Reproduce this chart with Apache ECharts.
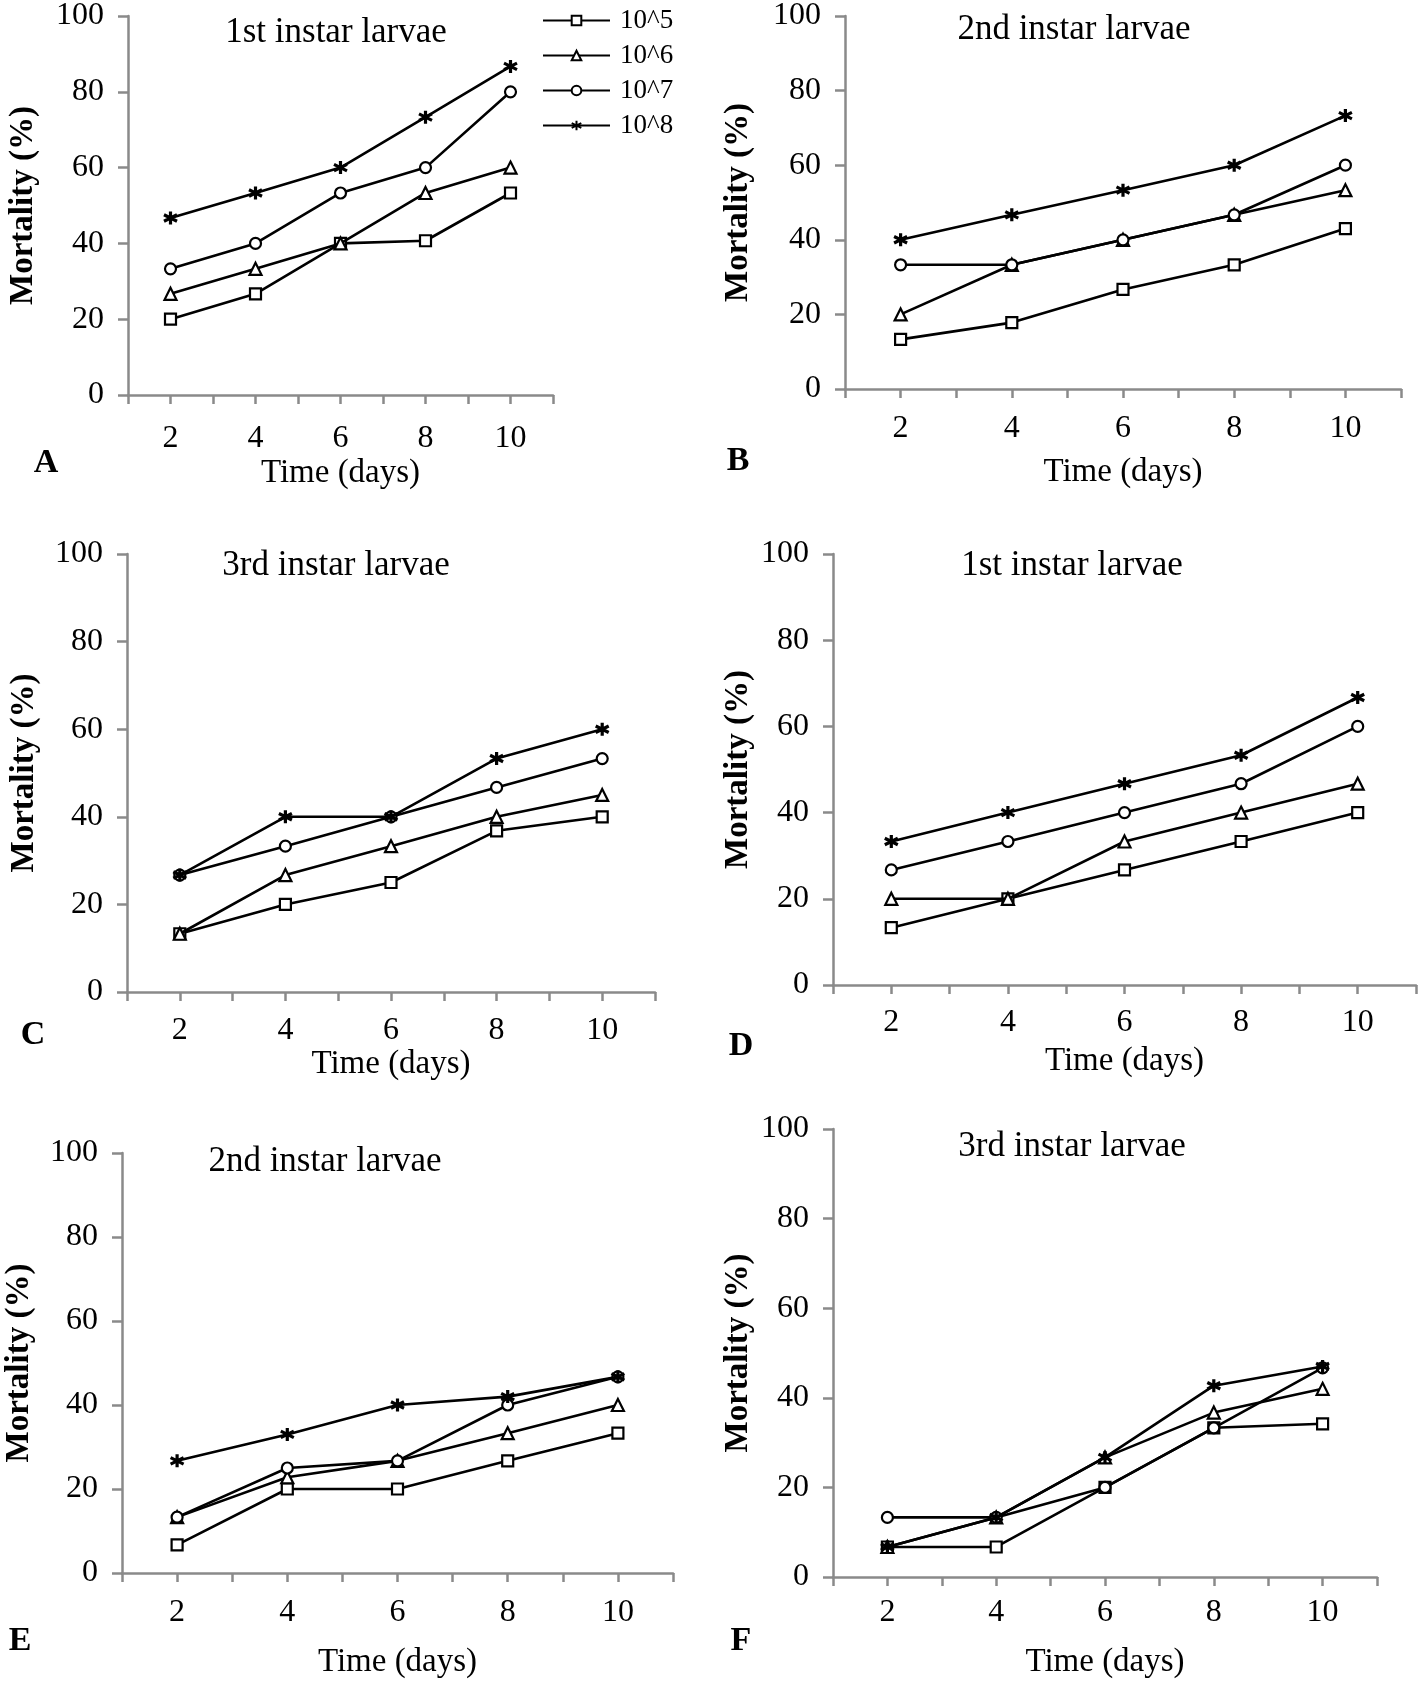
<!DOCTYPE html>
<html><head><meta charset="utf-8">
<script src="https://cdn.jsdelivr.net/npm/echarts/dist/echarts.min.js"></script>
<style>html,body{margin:0;padding:0;background:#fff}#c{width:1419px;height:1682px}</style>
</head><body><div id="c"></div>
<script>
// ---- data ----
const days = [2, 4, 6, 8, 10];
const xTickLabels = [2, 4, 6, 8, 10];
const yTickLabels = [0, 20, 40, 60, 80, 100];
const seriesNames = ['10^5', '10^6', '10^7', '10^8'];
const panelTitles = ['1st instar larvae', '2nd instar larvae', '3rd instar larvae', '1st instar larvae', '2nd instar larvae', '3rd instar larvae'];
const panelLetters = ['A', 'B', 'C', 'D', 'E', 'F'];
const xAxisTitle = 'Time (days)';
const yAxisTitle = 'Mortality (%)';

const A_e5 = [20, 26.7, 40, 40.7, 53.3];
const A_e6 = [26.7, 33.3, 40, 53.3, 60];
const A_e7 = [33.3, 40, 53.3, 60, 80];
const A_e8 = [46.7, 53.3, 60, 73.3, 86.7];
const B_e5 = [13.3, 17.8, 26.7, 33.3, 43];
const B_e6 = [20, 33.3, 40, 46.7, 53.3];
const B_e7 = [33.3, 33.3, 40, 46.7, 60];
const B_e8 = [40, 46.7, 53.3, 60, 73.3];
const C_e5 = [13.3, 20, 25, 36.8, 40];
const C_e6 = [13.3, 26.7, 33.3, 40, 45];
const C_e7 = [26.7, 33.3, 40, 46.7, 53.3];
const C_e8 = [26.7, 40, 40, 53.3, 60];
const D_e5 = [13.3, 20, 26.7, 33.3, 40];
const D_e6 = [20, 20, 33.3, 40, 46.7];
const D_e7 = [26.7, 33.3, 40, 46.7, 60];
const D_e8 = [33.3, 40, 46.7, 53.3, 66.7];
const E_e5 = [6.7, 20, 20, 26.7, 33.3];
const E_e6 = [13.3, 22.8, 26.7, 33.3, 40];
const E_e7 = [13.3, 25, 26.7, 40, 46.7];
const E_e8 = [26.7, 33, 40, 42, 46.7];
const F_e5 = [6.7, 6.7, 20, 33.3, 34.2];
const F_e6 = [6.7, 13.3, 26.7, 36.7, 42];
const F_e7 = [13.3, 13.3, 20, 33.3, 46.7];
const F_e8 = [6.7, 13.3, 26.7, 42.7, 47];

const panelData = [
  [A_e5, A_e6, A_e7, A_e8],
  [B_e5, B_e6, B_e7, B_e8],
  [C_e5, C_e6, C_e7, C_e8],
  [D_e5, D_e6, D_e7, D_e8],
  [E_e5, E_e6, E_e7, E_e8],
  [F_e5, F_e6, F_e7, F_e8]
];

// ---- layout ----
const grids = [
  {left: 128, top: 14, width: 425, height: 381},
  {left: 845, top: 15, width: 556, height: 374},
  {left: 127, top: 554, width: 528, height: 438},
  {left: 833, top: 554, width: 583, height: 431},
  {left: 122, top: 1153, width: 551, height: 420},
  {left: 833, top: 1129, width: 544, height: 448}
];
const titlePos = [[336, 33], [1074, 30], [336, 566], [1072, 566], [325, 1162], [1072, 1147]];
const letterPos = [[46, 463], [738, 461], [33, 1035], [741, 1046], [20, 1641], [741, 1641]];
const xLabelCenter = [45, 41, 40, 39, 41, 37];
const xNameCenter = [79, 84, 70, 77, 90, 86];
const yNameDist = [105, 107, 103, 95, 103, 95];

const FONT = 'Liberation Serif';
const AX = '#8a8a8a';
const starPath = 'path://M5,0 L5,10 M0.67,2.5 L9.33,7.5 M0.67,7.5 L9.33,2.5';
const symbols = ['rect', 'triangle', 'circle', starPath];

const xAxes = [], yAxes = [], series = [], graphics = [];
grids.forEach((g, p) => {
  xAxes.push({
    type: 'value', gridIndex: p, min: 1, max: 11, interval: 1,
    axisLine: {show: true, onZero: false, lineStyle: {color: AX, width: 2.5}},
    axisTick: {show: true, length: 9, lineStyle: {color: AX, width: 2.5}},
    splitLine: {show: false},
    axisLabel: {
      margin: xLabelCenter[p] - 17, color: '#000', fontFamily: FONT, fontSize: 32,
      formatter: v => (xTickLabels.indexOf(v) >= 0 ? String(v) : '')
    },
    name: xAxisTitle, nameLocation: 'middle', nameGap: xNameCenter[p] - 17,
    nameTextStyle: {color: '#000', fontFamily: FONT, fontSize: 33}
  });
  yAxes.push({
    type: 'value', gridIndex: p, min: yTickLabels[0], max: yTickLabels[yTickLabels.length - 1], interval: 20,
    axisLine: {show: true, lineStyle: {color: AX, width: 2.5}},
    axisTick: {show: true, length: 10, lineStyle: {color: AX, width: 2.5}},
    splitLine: {show: false},
    axisLabel: {margin: 24, color: '#000', fontFamily: FONT, fontSize: 32},
    name: yAxisTitle, nameLocation: 'middle', nameGap: yNameDist[p] - 17, nameRotate: 90,
    nameTextStyle: {color: '#000', fontFamily: FONT, fontSize: 33, fontWeight: 'bold'}
  });
  panelData[p].forEach((vals, s) => {
    series.push({
      type: 'line', name: seriesNames[s], xAxisIndex: p, yAxisIndex: p,
      data: days.map((d, i) => [d, vals[i]]),
      symbol: symbols[s], symbolSize: s === 1 ? 12 : (s === 3 ? 13 : 11),
      lineStyle: {color: '#000', width: 2.6},
      itemStyle: {color: s === 3 ? '#000' : '#fff', borderColor: '#000', borderWidth: s === 3 ? 3.2 : 2.2},
      emphasis: {disabled: true},
      z: 3 + s
    });
  });
  graphics.push({
    type: 'text', x: titlePos[p][0], y: titlePos[p][1],
    style: {text: panelTitles[p], fill: '#000', font: '35px "' + FONT + '"', textAlign: 'center', textVerticalAlign: 'middle'}
  });
  graphics.push({
    type: 'text', x: letterPos[p][0], y: letterPos[p][1],
    style: {text: panelLetters[p], fill: '#000', font: 'bold 34px "' + FONT + '"', textAlign: 'center', textVerticalAlign: 'middle'}
  });
});

const chart = echarts.init(document.getElementById('c'), null, {renderer: 'canvas'});
chart.setOption({
  animation: false,
  backgroundColor: '#fff',
  grid: grids.map(g => Object.assign({containLabel: false}, g)),
  xAxis: xAxes,
  yAxis: yAxes,
  legend: {
    data: seriesNames, orient: 'vertical', left: 537, top: 2,
    itemWidth: 67, itemHeight: 12, itemGap: 8,
    textStyle: {color: '#000', fontFamily: FONT, fontSize: 27, lineHeight: 27, padding: [0, 0, 0, 5]},
    selectedMode: false
  },
  graphic: graphics,
  series: series
});
</script></body></html>
